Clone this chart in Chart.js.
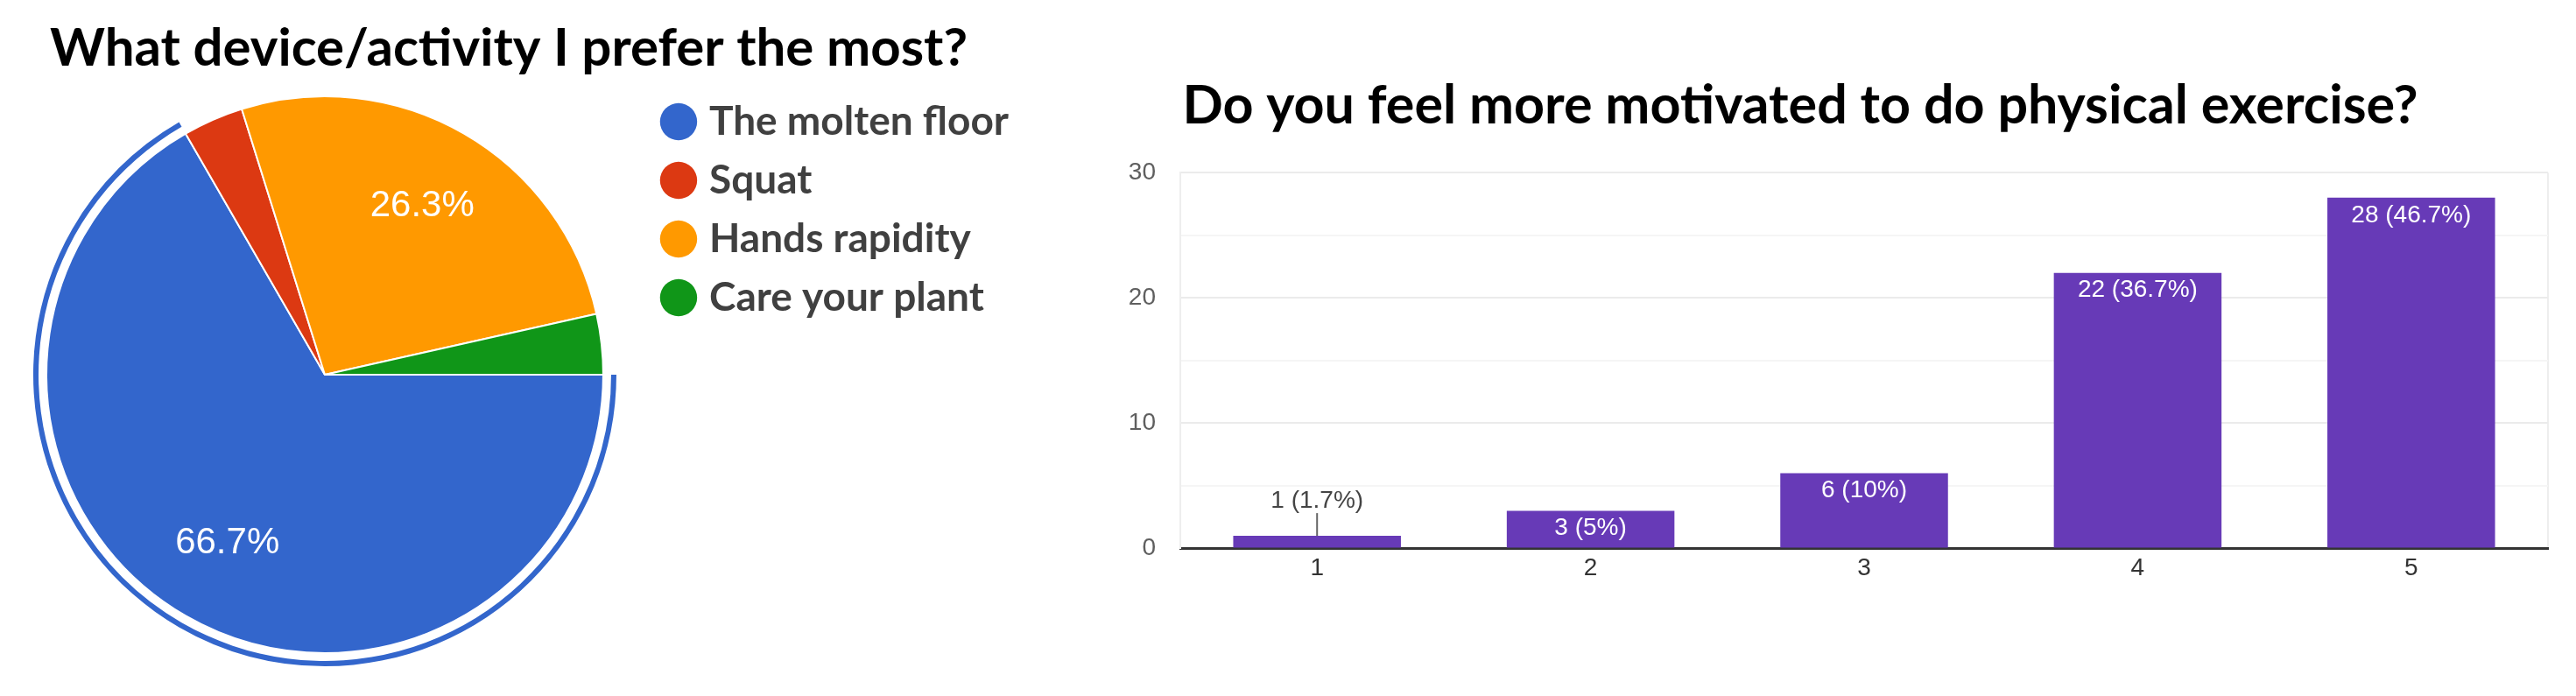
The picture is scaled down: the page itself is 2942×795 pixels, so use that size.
<!DOCTYPE html>
<html>
<head>
<meta charset="utf-8">
<title>Survey charts</title>
<script src="https://cdn.jsdelivr.net/npm/chart.js@4.4.1/dist/chart.umd.min.js"></script>
<style>
  html, body { margin: 0; padding: 0; background: #fff; overflow: hidden; }
  #wrap { position: relative; width: 2942px; height: 795px; }
  #pie { position: absolute; left: 0; top: 0; }
  #bar { position: absolute; left: 1202px; top: 0; }
</style>
</head>
<body>
<div id="wrap">
  <canvas id="pie" width="1162" height="795"></canvas>
  <canvas id="bar" width="1710" height="795"></canvas>
</div>
<script>
// pie - what device/activity is preferred (57 answers)
const pie_title = "What device/activity I prefer the most?";
const pie_labels = ["The molten floor", "Squat", "Hands rapidity", "Care your plant"];
const pie_values = [38, 2, 15, 2];
const pie_colors = ["#3366cc", "#dc3912", "#ff9900", "#109618"];
const pie_selected = 0;   // slice with the highlight ring

// bars - motivation, scale 1..5 (60 answers)
const bar_title = "Do you feel more motivated to do physical exercise?";
const bar_labels = ["1", "2", "3", "4", "5"];
const bar_values = [1, 3, 6, 22, 28];
const bar_color = "#673ab7";
const y_tick_labels = [0, 10, 20, 30];

Chart.defaults.font.family = '"Liberation Sans", Arial, sans-serif';
Chart.defaults.devicePixelRatio = 1;

function sum(arr) {
    return arr.reduce((a, b) => a + b, 0);
}

function pct(v, total) {
    return (Math.round(v / total * 1000) / 10) + "%";
}

// percentage written inside the big slices
const pieLabels = {
    id: "pieLabels",
    afterDatasetsDraw(chart) {
        const meta = chart.getDatasetMeta(2);
        const total = sum(pie_values);
        const ctx = chart.ctx;
        ctx.save();
        ctx.font = '42px "Liberation Sans", Arial, sans-serif';
        ctx.fillStyle = "#ffffff";
        ctx.textAlign = "center";
        ctx.textBaseline = "middle";
        meta.data.forEach((arc, i) => {
            if (pie_values[i] / total < 0.05) return;
            const p = arc.getProps(["x", "y", "startAngle", "endAngle", "outerRadius"], true);
            const mid = (p.startAngle + p.endAngle) / 2;
            const r = p.outerRadius * 0.7;
            ctx.fillText(pct(pie_values[i], total), p.x + Math.cos(mid) * r, p.y + Math.sin(mid) * r);
        });
        ctx.restore();
    }
};

// "n (x%)" on each bar, above it with a small line when the bar is too short
const barLabels = {
    id: "barLabels",
    afterDatasetsDraw(chart) {
        const meta = chart.getDatasetMeta(0);
        const total = sum(bar_values);
        const ctx = chart.ctx;
        ctx.save();
        ctx.font = '28px "Liberation Sans", Arial, sans-serif';
        ctx.textAlign = "center";
        ctx.textBaseline = "middle";
        meta.data.forEach((bar, i) => {
            const p = bar.getProps(["x", "y", "base"], true);
            const txt = `${bar_values[i]} (${pct(bar_values[i], total)})`;
            if (p.base - p.y > 36) {
                ctx.fillStyle = "#ffffff";
                ctx.fillText(txt, p.x, p.y + 20);
            } else {
                ctx.strokeStyle = "#666666";
                ctx.lineWidth = 2;
                ctx.beginPath();
                ctx.moveTo(p.x, p.y);
                ctx.lineTo(p.x, p.y - 26);
                ctx.stroke();
                ctx.fillStyle = "#444444";
                ctx.fillText(txt, p.x, p.y - 40);
            }
        });
        ctx.restore();
    }
};

new Chart(document.getElementById("pie"), {
    type: "pie",
    data: {
        labels: pie_labels,
        datasets: [
            {
                data: pie_values,
                backgroundColor: pie_colors.map((c, i) => i === pie_selected ? c : "rgba(0,0,0,0)"),
                borderWidth: 0,
                weight: 6
            },
            {
                data: pie_values,
                backgroundColor: "rgba(0,0,0,0)",
                borderWidth: 0,
                weight: 9
            },
            {
                data: pie_values,
                backgroundColor: pie_colors,
                borderColor: "#ffffff",
                borderWidth: 2,
                weight: 317
            }
        ]
    },
    options: {
        responsive: false,
        animation: false,
        events: [],
        rotation: 90,
        layout: { padding: { left: 0, right: 0, top: 0, bottom: 34 } },
        plugins: {
            title: {
                display: true,
                text: pie_title,
                align: "center",
                color: "#000000",
                font: { family: "Lato", weight: "bold", size: 60 },
                padding: { top: 20, bottom: 3 }
            },
            legend: {
                display: true,
                position: "right",
                align: "start",
                fullSize: false,
                labels: {
                    usePointStyle: true,
                    pointStyle: "circle",
                    boxWidth: 24,
                    boxHeight: 30,
                    padding: 21,
                    color: "#404040",
                    font: { family: "Lato", weight: "bold", size: 46 },
                    generateLabels: () => pie_labels.map((text, i) => ({
                        text: text,
                        fillStyle: pie_colors[i],
                        strokeStyle: pie_colors[i],
                        lineWidth: 0,
                        pointStyle: "circle",
                        fontColor: "#404040",
                        hidden: false,
                        index: i
                    }))
                }
            },
            tooltip: { enabled: false }
        }
    },
    plugins: [pieLabels]
});

new Chart(document.getElementById("bar"), {
    type: "bar",
    data: {
        labels: bar_labels,
        datasets: [{
            data: bar_values,
            backgroundColor: bar_color,
            borderWidth: 0,
            barPercentage: 0.613,
            categoryPercentage: 1
        }]
    },
    options: {
        responsive: false,
        animation: false,
        events: [],
        layout: { padding: { left: 0, right: 2, top: 0, bottom: 123 } },
        scales: {
            x: {
                z: 1,
                grid: {
                    offset: true,
                    drawTicks: false,
                    lineWidth: 2,
                    color: c => (c.type === "scale" || c.index === 0) ? "#eeeeee" : "rgba(0,0,0,0)"
                },
                border: { display: true, color: "#333333", width: 3 },
                ticks: { color: "#333333", font: { size: 28 }, padding: 6 }
            },
            y: {
                min: 0,
                max: 30,
                afterFit: scale => { scale.width = 146; },
                grid: {
                    drawTicks: false,
                    lineWidth: 2,
                    color: c => {
                        if (!c.tick || c.tick.value === 0) return "rgba(0,0,0,0)";
                        return c.tick.value % 10 === 0 ? "#ebebeb" : "#f5f5f5";
                    }
                },
                border: { display: true, color: "#eeeeee", width: 2 },
                ticks: {
                    stepSize: 5,
                    padding: 28,
                    color: "#5f5f5f",
                    font: { size: 28 },
                    callback: v => y_tick_labels.includes(v) ? v : ""
                }
            }
        },
        plugins: {
            title: {
                display: true,
                text: bar_title,
                align: "center",
                color: "#000000",
                font: { family: "Lato", weight: "bold", size: 61 },
                padding: { top: 85, bottom: 39 }
            },
            legend: { display: false },
            tooltip: { enabled: false }
        }
    },
    plugins: [barLabels]
});
</script>
</body>
</html>
